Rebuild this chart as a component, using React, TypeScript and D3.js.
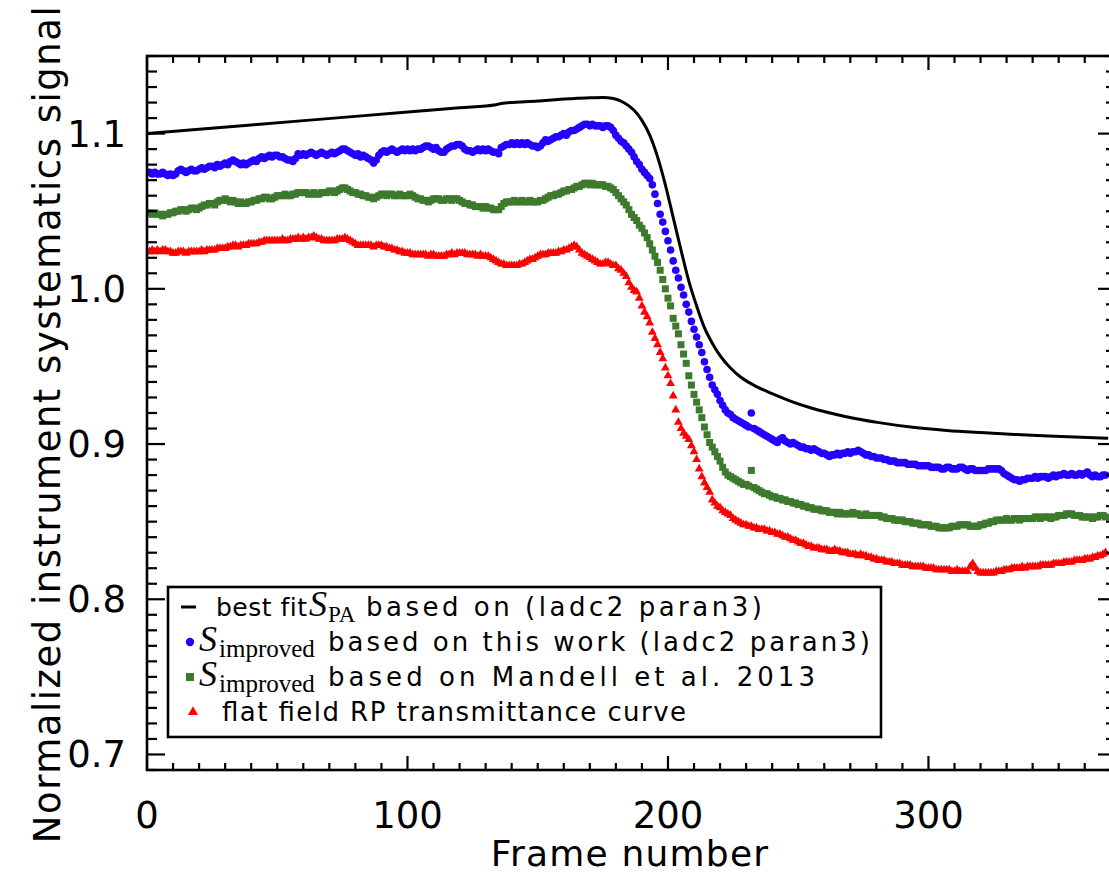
import React from "react";
import * as d3 from "d3";

// ---------- DATA ----------
const xTickLabels = ["0", "100", "200", "300"];
const xMajorTicks = [0, 100, 200, 300];
const yMajorTicks = [0.7, 0.8, 0.9, 1.0, 1.1];
const yTickLabels = ["0.7", "0.8", "0.9", "1.0", "1.1"];

// frame index 0..368
const frames = d3.range(0, 369);

// best fit S_PA (black line)
const fitFrames = [0, 40, 80, 120, 134, 136, 150, 162, 170, 175, 179, 183, 187, 190, 193, 196, 199, 202, 205, 208, 211, 214, 217, 220, 224, 228, 234, 240, 247, 255, 268, 281, 294, 307, 320, 333, 346, 369];
const fitValues = [1.1, 1.1056, 1.1111, 1.1167, 1.1186, 1.1194, 1.121, 1.1224, 1.1231, 1.1233, 1.1226, 1.12, 1.115, 1.1085, 1.099, 1.085, 1.067, 1.046, 1.025, 1.005, 0.989, 0.975, 0.965, 0.957, 0.949, 0.943, 0.937, 0.9325, 0.9277, 0.9232, 0.9178, 0.9138, 0.9108, 0.9088, 0.9074, 0.9062, 0.9052, 0.9037];

// S_improved, this work (blue)
const blueValues = [
  1.075, 1.075, 1.074, 1.075, 1.074, 1.074, 1.075, 1.074, 1.073, 1.074,
  1.073, 1.074, 1.076, 1.077, 1.076, 1.075, 1.076, 1.077, 1.076, 1.076,
  1.077, 1.078, 1.077, 1.078, 1.079, 1.079, 1.078, 1.08, 1.079, 1.08,
  1.081, 1.08, 1.082, 1.083, 1.082, 1.081, 1.08, 1.081, 1.08, 1.081,
  1.082, 1.083, 1.082, 1.084, 1.085, 1.084, 1.085, 1.086, 1.085, 1.086,
  1.086, 1.085, 1.085, 1.084, 1.083, 1.083, 1.082, 1.084, 1.087, 1.086,
  1.087, 1.086, 1.087, 1.088, 1.087, 1.086, 1.087, 1.088, 1.087, 1.086,
  1.087, 1.088, 1.087, 1.088, 1.089, 1.09, 1.09, 1.089, 1.088, 1.087,
  1.086, 1.087, 1.085, 1.086, 1.085, 1.084, 1.083, 1.081, 1.083, 1.086,
  1.088, 1.089, 1.088, 1.089, 1.09, 1.089, 1.088, 1.089, 1.09, 1.089,
  1.09, 1.089, 1.09, 1.089, 1.09, 1.09, 1.091, 1.092, 1.092, 1.091,
  1.09, 1.091, 1.089, 1.088, 1.088, 1.09, 1.091, 1.092, 1.092, 1.093,
  1.093, 1.092, 1.09, 1.089, 1.089, 1.088, 1.089, 1.09, 1.089, 1.09,
  1.089, 1.09, 1.089, 1.088, 1.088, 1.087, 1.091, 1.092, 1.093, 1.093,
  1.094, 1.093, 1.094, 1.093, 1.094, 1.093, 1.094, 1.093, 1.092, 1.092,
  1.091, 1.092, 1.094, 1.096, 1.095, 1.096, 1.097, 1.098, 1.098, 1.099,
  1.1, 1.099, 1.101, 1.102, 1.102, 1.103, 1.104, 1.105, 1.106, 1.106,
  1.105, 1.106, 1.105, 1.105, 1.105, 1.104, 1.105, 1.105, 1.104, 1.102,
  1.099, 1.097, 1.095, 1.094, 1.092, 1.09, 1.088, 1.085, 1.082, 1.08,
  1.077, 1.075, 1.073, 1.071, 1.067, 1.061, 1.055, 1.048, 1.043, 1.037,
  1.031, 1.025, 1.018, 1.012, 1.007, 1.001, 0.996, 0.99, 0.985, 0.979,
  0.974, 0.969, 0.964, 0.959, 0.953, 0.948, 0.943, 0.938, 0.935, 0.932,
  0.928, 0.925, 0.922, 0.92, 0.919, 0.917, 0.916, 0.915, 0.914, 0.913,
  0.912, 0.911, 0.92, 0.91, 0.909, 0.908, 0.907, 0.906, 0.905, 0.904,
  0.903, 0.902, 0.901, 0.903, 0.904, 0.902, 0.901, 0.9, 0.901, 0.9,
  0.899, 0.898, 0.898, 0.897, 0.897, 0.896, 0.897, 0.896, 0.895, 0.894,
  0.894, 0.893, 0.892, 0.893, 0.893, 0.894, 0.893, 0.894, 0.894, 0.895,
  0.894, 0.895, 0.895, 0.896, 0.895, 0.894, 0.893, 0.893, 0.892, 0.892,
  0.891, 0.891, 0.891, 0.89, 0.89, 0.889, 0.889, 0.889, 0.888, 0.888,
  0.888, 0.888, 0.887, 0.887, 0.887, 0.887, 0.886, 0.886, 0.886, 0.886,
  0.886, 0.885, 0.885, 0.885, 0.885, 0.884, 0.884, 0.885, 0.885, 0.884,
  0.884, 0.884, 0.885, 0.885, 0.884, 0.883, 0.884, 0.884, 0.883, 0.883,
  0.883, 0.883, 0.883, 0.884, 0.884, 0.884, 0.884, 0.884, 0.883, 0.881,
  0.88, 0.879, 0.878, 0.877, 0.877, 0.876, 0.877, 0.877, 0.878, 0.878,
  0.878, 0.879, 0.878, 0.879, 0.879, 0.879, 0.878, 0.879, 0.88, 0.879,
  0.88, 0.88, 0.881, 0.88, 0.88, 0.881, 0.88, 0.88, 0.881, 0.88,
  0.881, 0.882, 0.88, 0.879, 0.88, 0.879, 0.879, 0.88, 0.88,
];

// S_improved, Mandell et al. 2013 (green)
const greenValues = [
  1.049, 1.049, 1.048, 1.049, 1.048, 1.048, 1.047, 1.048, 1.048, 1.049,
  1.049, 1.05, 1.05, 1.051, 1.051, 1.05, 1.051, 1.052, 1.052, 1.051,
  1.052, 1.053, 1.054, 1.054, 1.055, 1.055, 1.054, 1.056, 1.057, 1.057,
  1.058, 1.057, 1.056, 1.057, 1.056, 1.055, 1.056, 1.055, 1.055, 1.056,
  1.056, 1.057, 1.057, 1.058, 1.058, 1.059, 1.059, 1.058, 1.058, 1.059,
  1.06, 1.06, 1.06, 1.061, 1.06, 1.06, 1.061, 1.061, 1.062, 1.062,
  1.062, 1.062, 1.061, 1.061, 1.062, 1.061, 1.061, 1.062, 1.062, 1.062,
  1.063, 1.063, 1.062, 1.063, 1.064, 1.065, 1.065, 1.064, 1.063, 1.062,
  1.062, 1.061, 1.061, 1.06, 1.06, 1.059, 1.059, 1.058, 1.059, 1.06,
  1.061, 1.061, 1.06, 1.061, 1.061, 1.06, 1.06, 1.061, 1.06, 1.06,
  1.06, 1.061, 1.06, 1.059, 1.058, 1.058, 1.057, 1.057, 1.056, 1.057,
  1.058, 1.058, 1.058, 1.057, 1.057, 1.058, 1.058, 1.057, 1.058, 1.058,
  1.057, 1.056, 1.055, 1.055, 1.054, 1.054, 1.053, 1.053, 1.053, 1.052,
  1.053, 1.052, 1.052, 1.051, 1.051, 1.051, 1.053, 1.055, 1.056, 1.056,
  1.056, 1.057, 1.056, 1.056, 1.057, 1.056, 1.056, 1.057, 1.056, 1.056,
  1.056, 1.057, 1.057, 1.058, 1.059, 1.06, 1.06, 1.061, 1.061, 1.062,
  1.063, 1.063, 1.064, 1.064, 1.065, 1.066, 1.066, 1.067, 1.068, 1.068,
  1.067, 1.068, 1.067, 1.067, 1.067, 1.067, 1.066, 1.066, 1.065, 1.064,
  1.062, 1.06, 1.058, 1.056, 1.054, 1.051, 1.048, 1.046, 1.044, 1.041,
  1.039, 1.036, 1.033, 1.029, 1.025, 1.021, 1.017, 1.012, 1.006, 1.0,
  0.994, 0.989, 0.981, 0.976, 0.971, 0.964, 0.958, 0.952, 0.944, 0.938,
  0.932, 0.927, 0.922, 0.917, 0.911, 0.906, 0.901, 0.898, 0.895, 0.892,
  0.889, 0.885, 0.882, 0.88, 0.879, 0.878, 0.877, 0.876, 0.875, 0.874,
  0.874, 0.873, 0.883, 0.872, 0.871, 0.87, 0.869, 0.868, 0.868, 0.867,
  0.866, 0.866, 0.865, 0.865, 0.864, 0.864, 0.863, 0.863, 0.862, 0.862,
  0.861, 0.861, 0.86, 0.86, 0.859, 0.859, 0.858, 0.858, 0.858, 0.857,
  0.857, 0.857, 0.856, 0.856, 0.856, 0.855, 0.856, 0.855, 0.855, 0.855,
  0.855, 0.856, 0.855, 0.855, 0.854, 0.854, 0.855, 0.854, 0.854, 0.854,
  0.854, 0.854, 0.853, 0.853, 0.852, 0.852, 0.852, 0.851, 0.851, 0.851,
  0.851, 0.85, 0.85, 0.85, 0.849, 0.849, 0.849, 0.848, 0.848, 0.848,
  0.848, 0.847, 0.847, 0.847, 0.846, 0.846, 0.846, 0.846, 0.846, 0.847,
  0.847, 0.847, 0.848, 0.848, 0.848, 0.848, 0.847, 0.847, 0.847, 0.847,
  0.848, 0.848, 0.849, 0.849, 0.85, 0.85, 0.851, 0.851, 0.851, 0.851,
  0.852, 0.851, 0.851, 0.852, 0.852, 0.851, 0.852, 0.852, 0.852, 0.852,
  0.852, 0.853, 0.853, 0.852, 0.853, 0.853, 0.853, 0.852, 0.853, 0.853,
  0.854, 0.854, 0.854, 0.855, 0.855, 0.855, 0.854, 0.854, 0.854, 0.853,
  0.853, 0.853, 0.853, 0.852, 0.853, 0.853, 0.854, 0.854, 0.853,
];

// flat field RP transmittance curve (red)
const redValues = [
  1.024, 1.024, 1.025, 1.024, 1.025, 1.024, 1.025, 1.025, 1.024, 1.024,
  1.023, 1.023, 1.024, 1.024, 1.024, 1.023, 1.024, 1.024, 1.024, 1.024,
  1.024, 1.025, 1.024, 1.025, 1.025, 1.025, 1.025, 1.026, 1.026, 1.026,
  1.026, 1.027, 1.027, 1.028, 1.028, 1.027, 1.028, 1.028, 1.028, 1.029,
  1.029, 1.029, 1.029, 1.03, 1.03, 1.031, 1.031, 1.031, 1.031, 1.031,
  1.031, 1.031, 1.032, 1.031, 1.031, 1.032, 1.032, 1.032, 1.033, 1.032,
  1.033, 1.032, 1.033, 1.033, 1.034, 1.033, 1.032, 1.032, 1.031, 1.031,
  1.031, 1.031, 1.031, 1.032, 1.032, 1.032, 1.033, 1.032, 1.031, 1.03,
  1.029, 1.028, 1.028, 1.028, 1.028, 1.028, 1.028, 1.027, 1.028, 1.028,
  1.028, 1.027, 1.027, 1.026, 1.026, 1.025, 1.025, 1.024, 1.024, 1.023,
  1.023, 1.023, 1.022, 1.022, 1.022, 1.022, 1.022, 1.022, 1.021, 1.022,
  1.022, 1.021, 1.021, 1.021, 1.021, 1.022, 1.022, 1.023, 1.022, 1.023,
  1.023, 1.023, 1.023, 1.022, 1.022, 1.022, 1.022, 1.021, 1.022, 1.021,
  1.021, 1.021, 1.02, 1.019, 1.018, 1.017, 1.016, 1.016, 1.015, 1.015,
  1.015, 1.015, 1.015, 1.016, 1.016, 1.017, 1.018, 1.019, 1.019, 1.02,
  1.021, 1.022, 1.022, 1.022, 1.023, 1.023, 1.023, 1.023, 1.024, 1.024,
  1.025, 1.025, 1.026, 1.027, 1.028, 1.027, 1.025, 1.023, 1.022, 1.021,
  1.02, 1.019, 1.018, 1.017, 1.016, 1.016, 1.017, 1.017, 1.016, 1.015,
  1.015, 1.013, 1.012, 1.01, 1.008, 1.004, 1.001, 0.999, 0.998, 0.994,
  0.989, 0.985, 0.982, 0.978, 0.972, 0.968, 0.964, 0.959, 0.955, 0.949,
  0.944, 0.939, 0.931, 0.922, 0.914, 0.91, 0.907, 0.905, 0.903, 0.899,
  0.895, 0.89, 0.884, 0.879, 0.875, 0.872, 0.869, 0.864, 0.862, 0.86,
  0.859, 0.857, 0.856, 0.855, 0.854, 0.852, 0.851, 0.85, 0.849, 0.848,
  0.848, 0.847, 0.847, 0.846, 0.846, 0.845, 0.845, 0.845, 0.844, 0.844,
  0.843, 0.843, 0.842, 0.842, 0.841, 0.84, 0.84, 0.839, 0.838, 0.838,
  0.837, 0.836, 0.836, 0.835, 0.834, 0.834, 0.833, 0.833, 0.833, 0.832,
  0.832, 0.832, 0.831, 0.831, 0.832, 0.831, 0.831, 0.83, 0.83, 0.83,
  0.829, 0.829, 0.829, 0.828, 0.829, 0.828, 0.828, 0.827, 0.827, 0.826,
  0.826, 0.825, 0.825, 0.825, 0.824, 0.824, 0.824, 0.823, 0.823, 0.823,
  0.822, 0.822, 0.822, 0.822, 0.821, 0.821, 0.821, 0.821, 0.821, 0.82,
  0.82, 0.82, 0.82, 0.819, 0.819, 0.819, 0.819, 0.819, 0.819, 0.818,
  0.818, 0.819, 0.818, 0.818, 0.818, 0.818, 0.821, 0.823, 0.82, 0.818,
  0.817, 0.817, 0.817, 0.817, 0.817, 0.817, 0.818, 0.818, 0.818, 0.819,
  0.819, 0.819, 0.82, 0.82, 0.82, 0.82, 0.821, 0.82, 0.821, 0.821,
  0.821, 0.821, 0.821, 0.822, 0.822, 0.822, 0.822, 0.822, 0.823, 0.823,
  0.823, 0.823, 0.824, 0.824, 0.824, 0.824, 0.825, 0.825, 0.825, 0.825,
  0.826, 0.826, 0.826, 0.827, 0.827, 0.828, 0.828, 0.829, 0.83,
];

// legend labels
const legendLabels = [
  "based on (ladc2 paran3)",
  "based on this work (ladc2 paran3)",
  "based on Mandell et al. 2013",
  "flat field RP transmittance curve",
];

const BLUE = "#2400ff";
const GREEN = "#3d7a2d";
const RED = "#ff0000";
const FONT = "'DejaVu Sans', Verdana, sans-serif";
const SERIF = "'Liberation Serif', 'DejaVu Serif', serif";

export default function App() {
  const W = 1109;
  const H = 879;
  const L = 147, R = 1116, T = 56, B = 770;
  const x = d3.scaleLinear().domain([0, 372]).range([L, R]);
  const y = d3.scaleLinear().domain([0.69, 1.15]).range([B, T]);

  const xMinor = d3.range(0, 372, 10);
  const yMinor = d3.range(69, 116).map((v) => v / 100);

  const fitLine = d3
    .line<number>()
    .x((_, i) => x(fitFrames[i]))
    .y((d) => y(d))
    .curve(d3.curveMonotoneX);

  const tri = d3.symbol(d3.symbolTriangle, 34)() as string;

  const axisStroke = 2.6;
  const rows = [607, 642, 677, 712];
  const fs = 26;
  const sSize = 36;
  const subSize = 25;

  return (
    <div style={{ position: "absolute", left: 0, top: 0 }}>
      <svg width={W} height={H} style={{ display: "block", background: "#fff" }}>
        <defs>
          <clipPath id="plotclip">
            <rect x={L} y={T} width={R - L} height={B - T} />
          </clipPath>
        </defs>
        <rect x={0} y={0} width={W} height={H} fill="#fff" />

        {/* data */}
        <g clipPath="url(#plotclip)">
          <path d={fitLine(fitValues) || ""} fill="none" stroke="#000" strokeWidth={3} />
          {frames.map((f, i) => (
            <circle key={"b" + f} cx={x(f)} cy={y(blueValues[i])} r={3.8} fill={BLUE} />
          ))}
          {frames.map((f, i) => (
            <rect key={"g" + f} x={x(f) - 3.5} y={y(greenValues[i]) - 3.5} width={7} height={7} fill={GREEN} />
          ))}
          {frames.map((f, i) => (
            <path key={"r" + f} d={tri} transform={`translate(${x(f)},${y(redValues[i])})`} fill={RED} />
          ))}
        </g>

        {/* legend */}
        <g fontFamily={FONT} fontSize={fs} fill="#000">
          <rect x={168} y={587} width={713} height={150} fill="#fff" stroke="#000" strokeWidth={2.6} />

          {/* row 1 */}
          <line x1={181} x2={196} y1={rows[0]} y2={rows[0]} stroke="#000" strokeWidth={3} />
          <text x={216} y={rows[0] + 9} fontSize={25} letterSpacing={0.5}>best fit</text>
          <text x={309} y={rows[0] + 9} fontFamily={SERIF} fontStyle="italic" fontSize={sSize}>S</text>
          <text x={328} y={rows[0] + 15} fontFamily={SERIF} fontSize={23}>PA</text>
          <text x={366} y={rows[0] + 9} textLength={396} lengthAdjust="spacing">{legendLabels[0]}</text>

          {/* row 2 */}
          <circle cx={190} cy={rows[1]} r={4.2} fill={BLUE} />
          <text x={199} y={rows[1] + 9} fontFamily={SERIF} fontStyle="italic" fontSize={sSize}>S</text>
          <text x={219} y={rows[1] + 15} fontFamily={SERIF} fontSize={subSize}>improved</text>
          <text x={328} y={rows[1] + 9} textLength={542} lengthAdjust="spacing">{legendLabels[1]}</text>

          {/* row 3 */}
          <rect x={186} y={rows[2] - 4} width={8} height={8} fill={GREEN} />
          <text x={199} y={rows[2] + 9} fontFamily={SERIF} fontStyle="italic" fontSize={sSize}>S</text>
          <text x={219} y={rows[2] + 15} fontFamily={SERIF} fontSize={subSize}>improved</text>
          <text x={328} y={rows[2] + 9} textLength={487} lengthAdjust="spacing">{legendLabels[2]}</text>

          {/* row 4 */}
          <path d={d3.symbol(d3.symbolTriangle, 44)() as string} transform={`translate(193,${rows[3]})`} fill={RED} />
          <text x={222} y={rows[3] + 9} textLength={464} lengthAdjust="spacing">{legendLabels[3]}</text>
        </g>

        {/* axes frame */}
        <rect x={L} y={T} width={R - L} height={B - T} fill="none" stroke="#000" strokeWidth={axisStroke} />

        {/* ticks on all four sides */}
        <g stroke="#000" strokeWidth={2.2}>
          {xMinor.map((v) => {
            const major = v % 100 === 0;
            const len = major ? 14 : 7;
            return (
              <g key={"xt" + v}>
                <line x1={x(v)} x2={x(v)} y1={B} y2={B - len} />
                <line x1={x(v)} x2={x(v)} y1={T} y2={T + len} />
              </g>
            );
          })}
          {yMinor.map((v) => {
            const major = yMajorTicks.some((m) => Math.abs(m - v) < 1e-6);
            const len = major ? 18 : 10;
            return (
              <g key={"yt" + v}>
                <line x1={L} x2={L + len} y1={y(v)} y2={y(v)} />
                <line x1={R} x2={R - len} y1={y(v)} y2={y(v)} />
              </g>
            );
          })}
        </g>

        {/* tick labels */}
        <g fontFamily={FONT} fontSize={37} fill="#000">
          {xMajorTicks.map((v, i) => (
            <text key={"xl" + v} x={x(v)} y={828} textAnchor="middle">
              {xTickLabels[i]}
            </text>
          ))}
          {yMajorTicks.map((v, i) => (
            <text key={"yl" + v} x={126} y={y(v) + 13} textAnchor="end">
              {yTickLabels[i]}
            </text>
          ))}
        </g>

        {/* axis titles */}
        <text x={630} y={866} textAnchor="middle" fontFamily={FONT} fontSize={36} letterSpacing={1.2} fill="#000">
          Frame number
        </text>
        <text
          transform="translate(60,424) rotate(-90)"
          textAnchor="middle"
          fontFamily={FONT}
          fontSize={37}
          letterSpacing={1.5}
          fill="#000"
        >
          Normalized instrument systematics signal
        </text>
      </svg>
    </div>
  );
}
